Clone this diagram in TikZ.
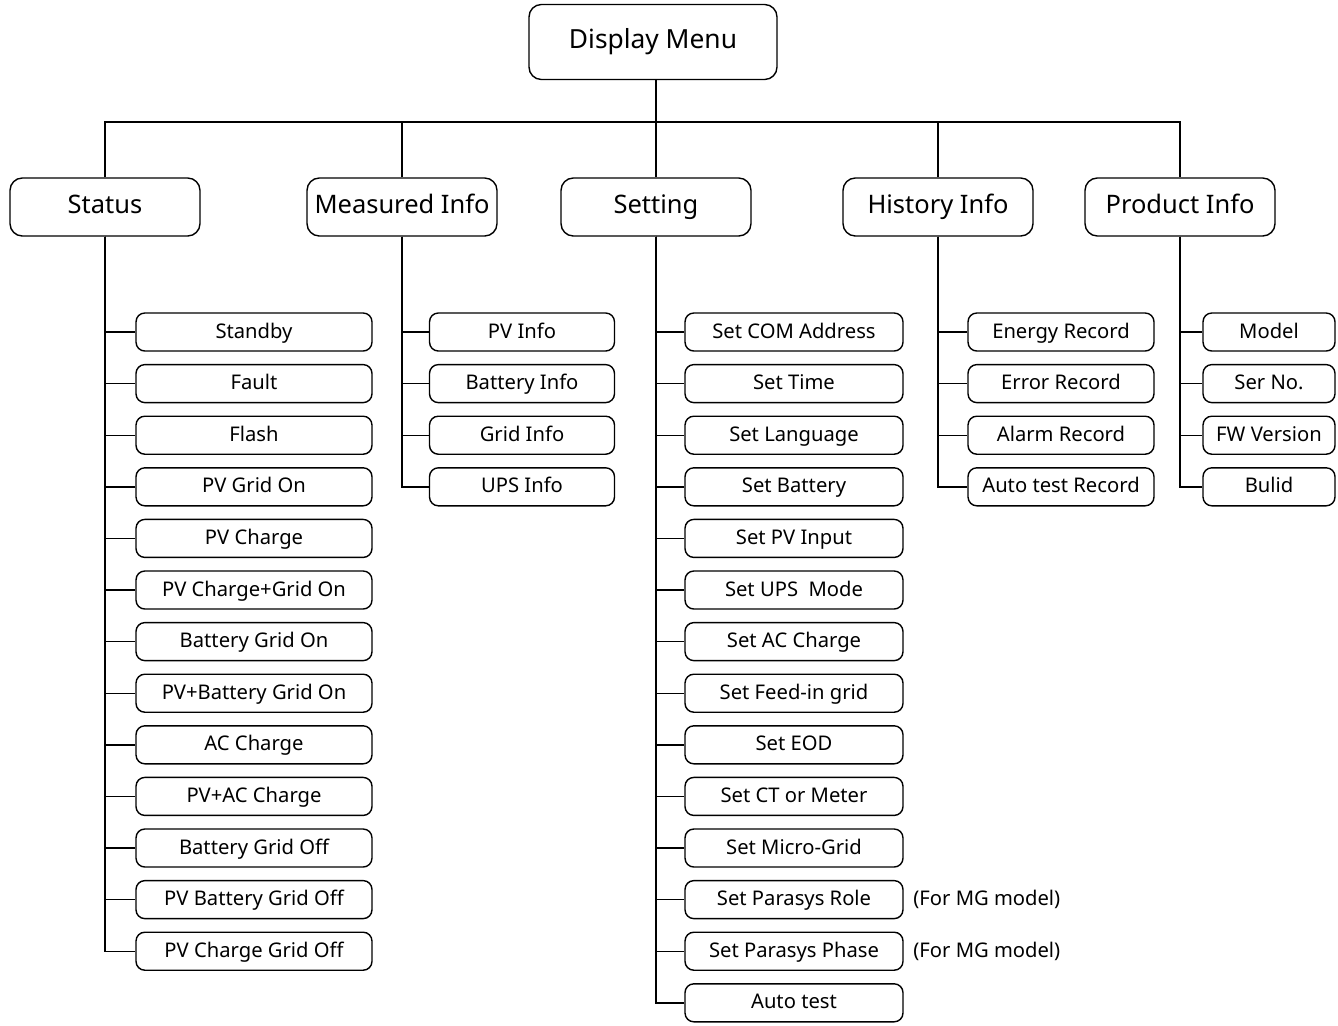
\documentclass[tikz,border=0pt]{standalone}
\usepackage{fontspec}
\setmainfont{Noto Sans}
\usetikzlibrary{positioning}

\begin{document}
\begin{tikzpicture}[x=0.02cm,y=-0.02cm,line width=0.8pt,
   top/.style={draw,rounded corners=7pt,minimum width=3.8cm,minimum height=1.16cm,
     inner sep=0pt,text height=1.5ex,text depth=0.2ex,font=\fontsize{14.5}{17}\selectfont},
   item/.style={draw,rounded corners=5pt,minimum height=0.76cm,
     inner sep=0pt,text height=1.5ex,text depth=0.2ex,font=\fontsize{11.5}{14}\selectfont},
   note/.style={inner sep=0pt,text height=1.5ex,text depth=0.2ex,font=\fontsize{11.5}{14}\selectfont}]
  \useasboundingbox (0,0) rectangle (1338,1025);
  % main menu and first level
  \node[top,minimum width=4.96cm,minimum height=1.5cm,font=\fontsize{15}{18}\selectfont] (dm) at (653,42) {Display Menu};
  \node[top] (st) at (105,207) {Status};
  \node[top] (mi) at (402,207) {Measured Info};
  \node[top] (se) at (656,207) {Setting};
  \node[top] (hi) at (938,207) {History Info};
  \node[top] (pi) at (1180,207) {Product Info};
  \coordinate (bus) at (656,122);
  \draw (se |- dm.south) -- (se);
  \draw (st.north) |- (bus) -| (pi.north);
  \draw (mi.north) -- (mi.north |- bus);
  \draw (hi.north) -- (hi.north |- bus);
  % second level
  \foreach \t [count=\i] in {Standby,Fault,Flash,PV Grid On,PV Charge,PV Charge+Grid On,
      Battery Grid On,PV+Battery Grid On,AC Charge,PV+AC Charge,Battery Grid Off,
      PV Battery Grid Off,PV Charge Grid Off}
    \node[item,minimum width=4.72cm] (st\i) at (254,{332+51.6*(\i-1)}) {\t};
  \foreach \t [count=\i] in {PV Info,Battery Info,Grid Info,UPS Info}
    \node[item,minimum width=3.7cm] (mi\i) at (522,{332+51.6*(\i-1)}) {\t};
  \foreach \t [count=\i] in {Set COM Address,Set Time,Set Language,Set Battery,Set PV Input,
      Set UPS\ \ Mode,Set AC Charge,Set Feed-in grid,Set EOD,Set CT or Meter,Set Micro-Grid,
      Set Parasys Role,Set Parasys Phase,Auto test}
    \node[item,minimum width=4.36cm] (se\i) at (794,{332+51.6*(\i-1)}) {\t};
  \foreach \t [count=\i] in {Energy Record,Error Record,Alarm Record,Auto test Record}
    \node[item,minimum width=3.72cm] (hi\i) at (1061,{332+51.6*(\i-1)}) {\t};
  \foreach \t [count=\i] in {Model,Ser No.,FW Version,Bulid}
    \node[item,minimum width=2.64cm] (pi\i) at (1269,{332+51.6*(\i-1)}) {\t};
  \node[note,right=0.18cm of se12] (n1) {(For MG model)};
  \node[note,right=0.18cm of se13] (n2) {(For MG model)};
  % connectors
  \foreach \i in {1,...,13} \draw (st.south) |- (st\i.west);
  \foreach \i in {1,...,4} \draw (mi.south) |- (mi\i.west);
  \foreach \i in {1,...,14} \draw (se.south) |- (se\i.west);
  \foreach \i in {1,...,4} \draw (hi.south) |- (hi\i.west);
  \foreach \i in {1,...,4} \draw (pi.south) |- (pi\i.west);
\end{tikzpicture}
\end{document}
